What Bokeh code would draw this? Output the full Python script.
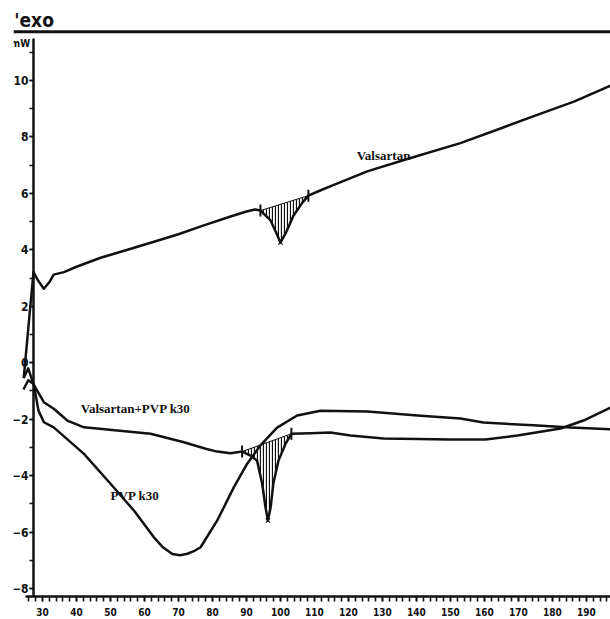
import numpy as np
from bokeh.plotting import figure
from bokeh.models import Range1d, Span, SingleIntervalTicker, Label
from bokeh.embed import file_html
from bokeh.resources import INLINE

# ---- data (temperature in deg C, heat flow in mW) ----
val_t = [24.5, 27.35, 28.7, 30.4, 32.0, 33.3, 36.3, 40.0, 47.1, 55.0, 61.8, 70.0, 77.0, 85.3,
         90.0, 92.5, 94.1, 97.1, 99.1, 100.0, 101.5, 103.8, 106.5, 108.2, 112.0, 115.7, 125.5,
         137.3, 152.9, 164.7, 174.5, 186.3, 197.1]
val_mw = [-0.51, 3.21, 2.91, 2.62, 2.85, 3.12, 3.21, 3.40, 3.72, 4.00, 4.25, 4.55, 4.85, 5.18,
          5.36, 5.43, 5.39, 5.04, 4.51, 4.26, 4.58, 5.21, 5.68, 5.92, 6.12, 6.30, 6.78,
          7.22, 7.78, 8.30, 8.74, 9.25, 9.82]

mix_t = [24.4, 25.8, 27.4, 30.4, 33.3, 37.3, 42.2, 52.0, 61.8, 71.6, 78.0, 81.4, 85.3, 88.7,
         91.2, 93.1, 94.6, 95.6, 96.3, 97.1, 97.9, 99.4, 101.5, 103.2, 108.8, 114.7, 120.6,
         130.3, 150.0, 160.3, 169.7, 182.4, 189.1, 197.1]
mix_mw = [-0.55, -0.20, -0.78, -1.40, -1.63, -2.05, -2.29, -2.40, -2.52, -2.82, -3.05, -3.15,
          -3.21, -3.15, -3.29, -3.47, -4.28, -5.13, -5.59, -5.13, -4.28, -3.47, -2.87, -2.52,
          -2.50, -2.47, -2.58, -2.69, -2.72, -2.72, -2.58, -2.33, -2.05, -1.59]

pvp_t = [24.4, 25.8, 27.4, 28.8, 30.4, 33.3, 42.2, 50.0, 56.9, 62.7, 65.5, 68.2, 70.5, 72.6,
         74.5, 76.5, 81.4, 86.3, 90.2, 94.1, 99.0, 104.9, 111.8, 125.6, 140.3, 152.9, 159.7,
         174.4, 185.3, 197.1]
pvp_mw = [-0.95, -0.62, -0.75, -1.69, -2.11, -2.29, -3.23, -4.29, -5.24, -6.18, -6.55, -6.78,
          -6.82, -6.77, -6.68, -6.54, -5.59, -4.41, -3.58, -2.93, -2.30, -1.87, -1.70, -1.73,
          -1.87, -1.98, -2.12, -2.22, -2.30, -2.36]

# integration limits and peak minima
val_lim_t = [94.1, 108.2]
val_lim_mw = [5.39, 5.92]
val_min = [100.0, 4.26]
mix_lim_t = [88.7, 103.2]
mix_lim_mw = [-3.15, -2.52]
mix_min = [96.3, -5.59]

curve_labels = ["Valsartan", "Valsartan+PVP k30", "PVP k30"]

SANS = "Liberation Sans Narrow, DejaVu Sans Condensed, Liberation Sans, sans-serif"

# ---- figure ----
p = figure(width=610, height=619, output_backend="svg", toolbar_location=None,
           x_range=Range1d(21.47, 197.06), y_range=Range1d(-8.285, 12.835),
           min_border_left=13, min_border_right=0, min_border_top=0, min_border_bottom=23)
p.outline_line_color = None
p.grid.visible = False
p.background_fill_color = "white"

INK = "#111111"

# axes
p.yaxis.fixed_location = 27.35
p.yaxis.bounds = (-8.285, 11.49)
p.yaxis.ticker = SingleIntervalTicker(interval=2, num_minor_ticks=2)
p.xaxis.bounds = (25.0, 197.1)
p.xaxis.ticker = SingleIntervalTicker(interval=10, num_minor_ticks=5)
for ax in (p.xaxis, p.yaxis):
    ax.axis_line_width = 2.5
    ax.axis_line_color = INK
    ax.major_tick_line_color = INK
    ax.minor_tick_line_color = INK
    ax.major_tick_line_width = 1.6
    ax.minor_tick_line_width = 1.6
    ax.major_tick_in = 0
    ax.minor_tick_in = 0
    ax.major_label_text_font = SANS
    ax.major_label_text_font_style = "bold"
    ax.major_label_text_color = INK
p.xaxis.major_tick_out = 5
p.xaxis.minor_tick_out = 5
p.xaxis.major_label_text_font_size = "10px"
p.xaxis.major_label_standoff = 6
p.yaxis.major_tick_out = 4
p.yaxis.minor_tick_out = 4
p.yaxis.major_label_text_font_size = "12px"
p.yaxis.major_label_standoff = 1

# header line and texts
p.add_layout(Span(location=11.73, dimension="width", line_color=INK, line_width=3))
p.add_layout(Label(x=21.7, y=12.16, text="'exo", text_font=SANS,
                   text_font_style="bold", text_font_size="19px", text_color=INK,
                   text_baseline="middle", text_align="left"))
p.add_layout(Label(x=23.5, y=11.31, text="mW", text_font=SANS,
                   text_font_style="bold", text_font_size="10px", text_color=INK,
                   text_baseline="middle", text_align="center"))

# hatched endotherm areas
def hatch_area(t, mw, lim_t, lim_mw):
    t = np.asarray(t)
    mw = np.asarray(mw)
    m = (t >= lim_t[0]) & (t <= lim_t[1])
    ts = t[m]
    base = np.interp(ts, lim_t, lim_mw)
    p.varea(x=ts, y1=mw[m], y2=base, fill_color=None, hatch_pattern="vertical_line",
            hatch_color=INK, hatch_scale=3.0, hatch_weight=1.3)
    p.line(lim_t, lim_mw, line_color=INK, line_width=1)

hatch_area(val_t, val_mw, val_lim_t, val_lim_mw)
hatch_area(mix_t, mix_mw, mix_lim_t, mix_lim_mw)

# curves
for t, mw in ((val_t, val_mw), (mix_t, mix_mw), (pvp_t, pvp_mw)):
    p.line(t, mw, line_color=INK, line_width=2.5, line_join="round")

# limit markers and minima
p.scatter(val_lim_t + mix_lim_t, val_lim_mw + mix_lim_mw, marker="dash", angle=np.pi / 2,
          size=12, line_color=INK, line_width=2)
p.scatter([val_min[0], mix_min[0]], [val_min[1], mix_min[1]], marker="x", size=6,
          line_color=INK, line_width=1.2)

# curve labels
for txt, x, y in zip(curve_labels, [130.3, 57.4, 57.2], [7.34, -1.63, -4.7]):
    p.add_layout(Label(x=x, y=y, text=txt, text_font="Liberation Serif", text_font_style="bold",
                       text_font_size="13px", text_color=INK, text_align="center",
                       text_baseline="middle"))

open("out.html", "w").write(file_html(p, INLINE))
